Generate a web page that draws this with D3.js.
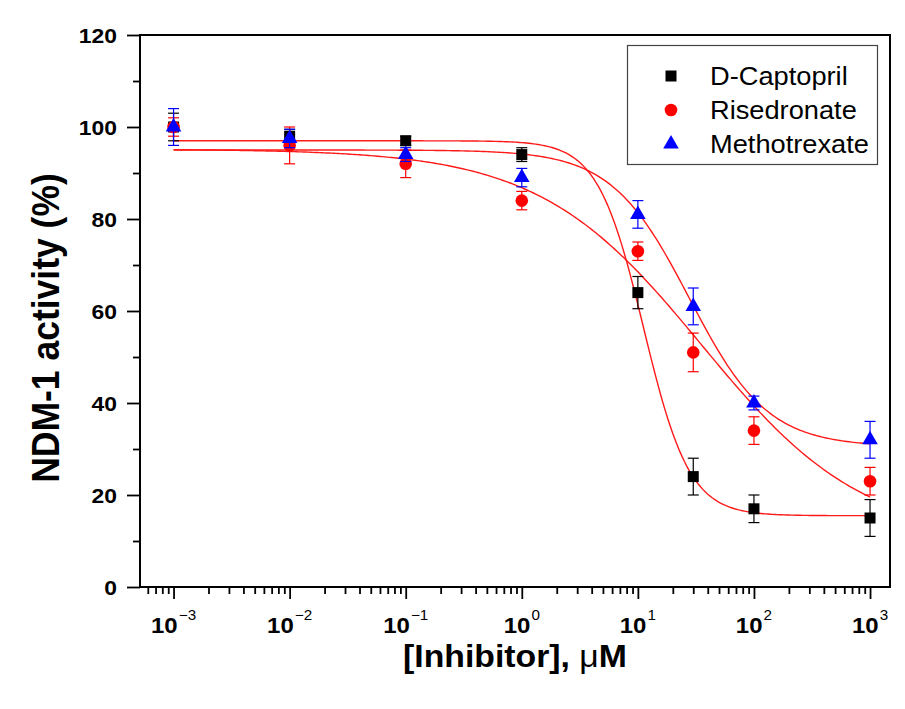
<!DOCTYPE html>
<html>
<head>
<meta charset="utf-8">
<script src="https://cdn.jsdelivr.net/npm/d3@7"></script>
<style>
body { margin: 0; background: #fff; }
text { font-family: Arial, "Liberation Sans", sans-serif; fill: #000; }
</style>
</head>
<body>
<svg id="chart" width="905" height="709"></svg>
<script>
// data ---------------------------------------------------------------------
let concentrations = [0.001, 0.01, 0.1, 1, 10, 30, 100, 1000];
let seriesNames = ['D-Captopril', 'Risedronate', 'Methotrexate'];
let captopril = [100, 98, 97, 94, 64, 24, 17, 15];
let captoprilErr = [3, 1.5, 1, 1.5, 3.5, 4, 3, 4];
let risedronate = [100, 96, 92, 84, 73, 51, 34, 23];
let risedronateErr = [2, 4, 3, 2, 2, 4.2, 3, 3];
let methotrexate = [100, 97.5, 94, 89, 81, 61, 40, 32];
let methotrexateErr = [4, 2, 1.5, 2, 3, 4, 1.5, 4];

// 4-parameter logistic fit parameters (top, bottom, log IC50, Hill slope)
let fitTop = [97, 95.2, 95];
let fitBottom = [15.5, 10, 30.5];
let fitLogIC50 = [1.05, 1.55, 1.444];
let fitHill = [2.2, 0.62, 1.29];

let yTicks = [0, 20, 40, 60, 80, 100, 120];
let yMinorTicks = [10, 30, 50, 70, 90, 110];
let xDecades = [-3, -2, -1, 0, 1, 2, 3];

let svg = d3.select('#chart');
let stretch = 1.09; // the original figure is a bit wider than tall

let x = d3.scaleLog().domain([Math.pow(10, -3.289), Math.pow(10, 3.172)]).range([140, 890]);
let y = d3.scaleLinear().domain([0, 120]).range([587, 35]);

// axes -----------------------------------------------------------------------
let xMajor = xDecades.map((d) => Math.pow(10, d));
let xMinor = [];
for (let k = -4; k <= 3; k++) {
    for (let m = 2; m <= 9; m++) {
        let v = m * Math.pow(10, k);
        if (v >= x.domain()[0] && v <= x.domain()[1]) xMinor.push(v);
    }
}

let xAxisMinor = svg.append('g').attr('transform', 'translate(0,587)')
    .call(d3.axisBottom(x).tickValues(xMinor).tickSize(7).tickSizeOuter(0).tickFormat(''));
let xAxisMajor = svg.append('g').attr('transform', 'translate(0,587)')
    .call(d3.axisBottom(x).tickValues(xMajor).tickSize(12).tickSizeOuter(0).tickFormat(''));

let yAxisMinor = svg.append('g').attr('transform', 'translate(140,0)')
    .call(d3.axisLeft(y).tickValues(yMinorTicks).tickSize(7).tickSizeOuter(0).tickFormat(''));
let yAxisMajor = svg.append('g').attr('transform', 'translate(140,0)')
    .call(d3.axisLeft(y).tickValues(yTicks).tickSize(13).tickSizeOuter(0).tickFormat(''));

[xAxisMinor, xAxisMajor, yAxisMinor, yAxisMajor].forEach((g) => {
    g.select('.domain').remove();
    g.selectAll('line').attr('stroke', '#000').attr('stroke-width', 1.8);
});

// frame
svg.append('rect')
    .attr('x', x.range()[0]).attr('y', y.range()[1])
    .attr('width', x.range()[1] - x.range()[0])
    .attr('height', y.range()[0] - y.range()[1])
    .attr('fill', 'none').attr('stroke', '#000').attr('stroke-width', 2);

// tick labels
yTicks.forEach((v) => {
    svg.append('text')
        .attr('transform', 'translate(117,' + (y(v) + 7.5) + ') scale(' + stretch + ',1)')
        .attr('text-anchor', 'end')
        .attr('font-size', 21).attr('font-weight', 'bold')
        .text(v);
});

xDecades.forEach((d) => {
    let t = svg.append('text')
        .attr('transform', 'translate(' + x(Math.pow(10, d)) + ',633) scale(' + stretch + ',1)')
        .attr('text-anchor', 'middle')
        .attr('font-size', 22).attr('font-weight', 'bold');
    t.append('tspan').text('10');
    t.append('tspan').attr('dy', -13).attr('dx', 1)
        .attr('font-size', 14).attr('font-weight', 'normal')
        .text(d < 0 ? '\u2212' + Math.abs(d) : d);
});

// axis titles
let xTitle = svg.append('text')
    .attr('transform', 'translate(515,667) scale(' + stretch + ',1)')
    .attr('text-anchor', 'middle')
    .attr('font-size', 31).attr('font-weight', 'bold');
xTitle.append('tspan').text('[Inhibitor], ');
xTitle.append('tspan').attr('font-weight', 'normal').text('\u03bc');
xTitle.append('tspan').text('M');

svg.append('text')
    .attr('transform', 'translate(59,328) scale(' + stretch + ',1) rotate(-90)')
    .attr('text-anchor', 'middle')
    .attr('font-size', 35.5).attr('font-weight', 'bold')
    .text('NDM-1 activity (%)');

// fitted curves ------------------------------------------------------------
let logistic = (i, logX) => fitBottom[i] + (fitTop[i] - fitBottom[i]) /
    (1 + Math.pow(10, fitHill[i] * (logX - fitLogIC50[i])));
let curveLine = d3.line()
    .x((d) => x(Math.pow(10, d[0])))
    .y((d) => y(d[1]));
let logGrid = d3.range(-3, 3.0001, 0.02);

seriesNames.forEach((name, i) => {
    svg.append('path')
        .datum(logGrid.map((lx) => [lx, logistic(i, lx)]))
        .attr('fill', 'none')
        .attr('stroke', '#ff1a1a')
        .attr('stroke-width', 1.4)
        .attr('d', curveLine);
});

// points with error bars ---------------------------------------------------
let seriesValues = [captopril, risedronate, methotrexate];
let seriesErrors = [captoprilErr, risedronateErr, methotrexateErr];
let seriesColors = ['#000000', '#ff0000', '#0000ff'];
let seriesSymbols = [
    d3.symbol().type(d3.symbolSquare).size(121),
    d3.symbol().type(d3.symbolCircle).size(125),
    d3.symbol().type(d3.symbolTriangle).size(105)
];
let capHalf = 5.5;

seriesNames.forEach((name, i) => {
    let rows = concentrations.map((c, j) => ({c: c, v: seriesValues[i][j], e: seriesErrors[i][j]}));
    let g = svg.append('g');
    let bars = g.selectAll('.err').data(rows).enter().append('g')
        .attr('stroke', seriesColors[i]).attr('stroke-width', 1.2);
    bars.append('line')
        .attr('x1', (d) => x(d.c)).attr('x2', (d) => x(d.c))
        .attr('y1', (d) => y(d.v - d.e)).attr('y2', (d) => y(d.v + d.e));
    bars.append('line')
        .attr('x1', (d) => x(d.c) - capHalf).attr('x2', (d) => x(d.c) + capHalf)
        .attr('y1', (d) => y(d.v + d.e)).attr('y2', (d) => y(d.v + d.e));
    bars.append('line')
        .attr('x1', (d) => x(d.c) - capHalf).attr('x2', (d) => x(d.c) + capHalf)
        .attr('y1', (d) => y(d.v - d.e)).attr('y2', (d) => y(d.v - d.e));
    g.selectAll('.pt').data(rows).enter().append('path')
        .attr('transform', (d) => 'translate(' + x(d.c) + ',' + y(d.v) + ')')
        .attr('d', seriesSymbols[i])
        .attr('fill', seriesColors[i]);
});

// legend -------------------------------------------------------------------
svg.append('rect')
    .attr('x', 627.5).attr('y', 45.5).attr('width', 250).attr('height', 119)
    .attr('fill', '#fff').attr('stroke', '#444').attr('stroke-width', 1.2);

seriesNames.forEach((name, i) => {
    let cy = 76 + i * 34;
    svg.append('path')
        .attr('transform', 'translate(671,' + cy + ')')
        .attr('d', seriesSymbols[i])
        .attr('fill', seriesColors[i]);
    svg.append('text')
        .attr('transform', 'translate(710,' + (cy + 9) + ') scale(' + stretch + ',1)')
        .attr('font-size', 25)
        .text(name);
});
</script>
</body>
</html>
